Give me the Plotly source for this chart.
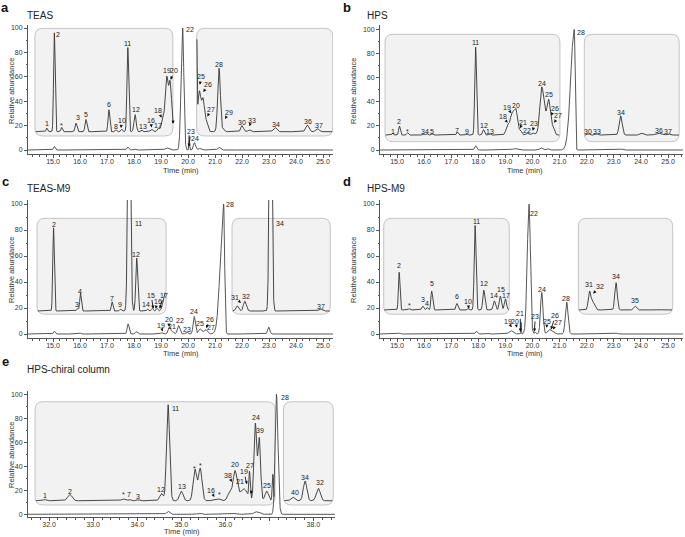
import numpy as np
import plotly.graph_objects as go

W, H = 685, 537
FONT = "Liberation Sans, Arial, sans-serif"

# ======================= DATA =======================
# peaks: retention time (min), height, left/right width (sigma, min)
# ---- a: TEAS ----
a_main_rt = [15.05, 17.07, 17.77, 18.04, 19.22, 19.80, 20.04, 20.23, 20.45, 21.15, 23.20, 24.40]
a_main_h = [3.0, 0.6, 2.5, 0.7, 1.6, 100, 12, 6, 1.2, 2.2, 0.4, 0.4]
a_main_wl = [.03, .03, .035, .035, .07, .055, .01, .035, .06, .05, .05, .05]
a_main_wr = [.03, .03, .035, .035, .07, .045, .012, .05, .06, .05, .05, .05]
a_in1_rt = [14.77, 15.05, 15.32, 15.85, 16.22, 17.07, 17.33, 17.54, 17.77, 18.04, 18.28, 18.65, 18.90, 19.05, 19.21, 19.34]
a_in1_h = [3, 81, 3.5, 7, 10, 18, 1.5, 2, 69, 14, 1.5, 2, 3, 8, 45, 37]
a_in1_wl = [.025, .028, .03, .035, .035, .032, .03, .03, .032, .04, .03, .04, .04, .05, .06, .045]
a_in1_wr = [.025, .028, .03, .035, .035, .032, .03, .03, .032, .04, .03, .04, .04, .05, .06, .06]
a_in2_rt = [20.33, 20.42, 20.56, 20.68, 21.15, 21.32, 21.99, 22.27, 23.22, 24.42, 24.80]
a_in2_h = [65, 33, 25, 8, 52, 2, 5, 1.5, 3.5, 5.5, 2.5]
a_in2_wl = [.012, .06, .05, .05, .05, .04, .04, .05, .06, .06, .06]
a_in2_wr = [.012, .06, .05, .05, .05, .04, .06, .05, .06, .06, .06]
a_base = 15.0
a_lab = ["1", "2", "*", "3", "5", "6", "8", "11", "12", "13", "17", "19", "22", "24", "28", "30", "34", "36", "37"]
a_lab_t = [14.77, 15.2, 15.33, 15.91, 16.23, 17.08, 17.33, 17.77, 18.09, 18.33, 18.9, 19.21, 20.07, 20.26, 21.15, 22.01, 23.26, 24.46, 24.85]
a_lab_v = [21.9, 94.3, 19.7, 26.8, 29.5, 37.4, 19, 87.4, 32.8, 19, 20.4, 64.8, 98.4, 9.6, 69.7, 22.7, 21, 23, 19.7]
a_arr = ["10", "16", "18", "20", " ", "23", "25", "26", "27", "29", "33"]
a_arr_t = [17.54, 18.62, 18.9, 19.48, 19.47, 20.1, 20.48, 20.74, 20.84, 21.52, 22.36]
a_arr_v = [24.0, 24.0, 32.0, 65.0, 28.0, 15.0, 60.0, 53.5, 33.0, 31.0, 24.5]
a_tip_t = [17.52, 18.65, 19.02, 19.36, 19.44, 20.03, 20.44, 20.57, 20.72, 21.37, 22.27]
a_tip_v = [18.0, 18.5, 26.5, 57.5, 21.5, 2.7, 53.5, 47.5, 27.5, 25.5, 19.5]

# ---- b: HPS ----
b_main_rt = [17.90, 19.35, 20.32, 20.55, 21.54, 23.27]
b_main_h = [3.5, 1.2, 1.8, 1.2, 100, 0.8]
b_main_wl = [.035, .08, .05, .05, .13, .05]
b_main_wr = [.035, .08, .05, .05, .028, .05]
b_in1_rt = [14.84, 15.09, 15.39, 15.97, 16.10, 16.30, 17.23, 17.57, 17.90, 18.19, 18.42, 19.08, 19.22, 19.38, 19.55, 19.80, 20.00, 20.33, 20.45, 20.60, 20.75]
b_in1_h = [1.5, 7.5, 2, 1.2, 1.2, 1, 2.5, 0.8, 73, 4.5, 1, 8, 8, 22, 4, 1.5, 1.5, 31, 12, 22, 5]
b_in1_wl = [.025, .03, .03, .03, .03, .03, .03, .03, .032, .035, .03, .06, .05, .12, .05, .05, .05, .06, .15, .06, .05]
b_in1_wr = [.025, .03, .03, .03, .03, .03, .03, .03, .032, .035, .03, .06, .05, .06, .05, .05, .05, .08, .15, .06, .05]
b_in2_rt = [22.06, 22.37, 23.25, 24.02, 24.63, 25.00]
b_in2_h = [1, 1, 16, 1.5, 1.5, 1]
b_in2_wl = [.04, .04, .055, .06, .1, .06]
b_in2_wr = [.04, .04, .055, .06, .1, .06]
b_base = 12.4
b_lab = ["1", "2", "*", "3", "4", "5", "7", "9", "11", "12", "13", "20", "22", "24", "25", "28", "30", "33", "34", "36", "37"]
b_lab_t = [14.84, 15.09, 15.39, 15.95, 16.11, 16.3, 17.23, 17.57, 17.9, 18.21, 18.43, 19.39, 19.8, 20.34, 20.62, 21.78, 22.06, 22.37, 23.27, 24.68, 25.01]
b_lab_v = [15.6, 23.5, 15.6, 15.6, 15.6, 15.6, 16.2, 15.6, 88.9, 20.7, 15.6, 36.8, 15.9, 55.2, 45.6, 97.5, 15.6, 15.6, 30.9, 15.9, 15.6]
b_arr = ["18", "19", "21", "23", "26", "27"]
b_arr_t = [18.91, 19.05, 19.64, 20.07, 20.83, 20.95]
b_arr_v = [27.5, 35.2, 23.0, 22.0, 34.2, 28.2]
b_tip_t = [19.08, 19.22, 19.54, 20.01, 20.68, 20.8]
b_tip_v = [22.5, 30.5, 18.0, 16.0, 28.5, 22.5]

# ---- c: TEAS-M9 ----
c_main_rt = [15.05, 16.02, 17.78, 18.09, 19.02, 19.32, 19.45, 19.65, 19.95, 20.23, 20.45, 20.65, 21.32, 22.99]
c_main_h = [2.2, 0.6, 7.8, 1.8, 1, 5.5, 1.5, 6.5, 1.5, 13.5, 4, 3.5, 100, 5.3]
c_main_wl = [.03, .03, .035, .04, .04, .05, .03, .045, .04, .04, .06, .06, .12, .04]
c_main_wr = [.03, .03, .035, .04, .04, .05, .03, .045, .04, .04, .06, .06, .035, .04]
c_in1_rt = [15.02, 15.91, 16.02, 17.19, 17.50, 17.82, 18.10, 18.50, 18.67, 18.85, 19.15]
c_in1_h = [64, 2, 13.5, 7, 1.5, 250, 40.7, 1.5, 2, 2, 14]
c_in1_wl = [.028, .03, .03, .03, .03, .045, .035, .03, .03, .03, .07]
c_in1_wr = [.028, .03, .03, .03, .03, .045, .035, .03, .03, .03, .07]
c_in2_rt = [21.82, 22.10, 23.06, 24.90]
c_in2_h = [4, 7.5, 300, 1.5]
c_in2_wl = [.05, .05, .043, .06]
c_in2_wr = [.05, .06, .043, .06]
c_base = 17.7
c_lab = ["2", "3", "4", "7", "9", "11", "12", "14", "22", "23", "24", "25", "28", "32", "34", "37"]
c_lab_t = [15.02, 15.89, 16.01, 17.19, 17.49, 18.15, 18.09, 18.46, 19.69, 19.96, 20.24, 20.44, 21.57, 22.16, 23.39, 24.93]
c_lab_v = [84.4, 22.8, 33, 27.4, 22.8, 85.1, 60.8, 22.8, 10.2, 3.8, 17.2, 8.2, 99.8, 28.7, 85.1, 21.1]
c_arr = ["15", "16", "17", "19", "20", "21", "26", "27", "31"]
c_arr_t = [18.64, 18.87, 19.1, 19.0, 19.28, 19.41, 20.8, 20.85, 21.75]
c_arr_v = [30.0, 25.0, 30.0, 6.5, 11.0, 6.0, 11.5, 5.2, 28.2]
c_tip_t = [18.71, 18.8, 18.95, 19.06, 19.3, 19.46, 20.68, 20.73, 21.96]
c_tip_v = [19.5, 19.5, 19.5, 2.0, 5.5, 1.8, 4.5, 1.8, 23.8]

# ---- d: HPS-M9 ----
d_main_rt = [15.10, 17.93, 18.35, 19.20, 19.58, 19.87, 20.09, 20.34, 20.62, 20.77, 21.26, 22.10, 23.10, 24.50]
d_main_h = [0.7, 2.2, 0.5, 2.6, 9, 100, 1.5, 32, 3.5, 2, 24.5, 0.4, 0.6, 0.3]
d_main_wl = [.03, .035, .04, .07, .008, .065, .03, .045, .07, .05, .05, .05, .05, .05]
d_main_wr = [.03, .035, .04, .07, .008, .05, .03, .045, .07, .05, .05, .05, .05, .05]
d_in1_rt = [15.08, 15.45, 15.95, 16.11, 16.28, 16.70, 17.21, 17.63, 17.88, 18.20, 18.59, 18.81, 19.00]
d_in1_h = [29, 1, 3, 2, 14.5, 0.5, 5, 1, 65, 15.3, 7, 10.7, 8.5]
d_in1_wl = [.028, .03, .035, .03, .03, .04, .035, .03, .033, .035, .04, .04, .04]
d_in1_wr = [.028, .03, .035, .03, .035, .04, .035, .03, .033, .04, .04, .04, .04]
d_in2_rt = [22.10, 22.24, 23.08, 23.78, 24.60]
d_in2_h = [14.5, 5, 21, 3, 0.5]
d_in2_wl = [.045, .05, .045, .05, .1]
d_in2_wr = [.06, .06, .045, .05, .1]
d_base = 18.5
d_lab = ["2", "*", "3", "4", "5", "6", "11", "12", "14", "15", "17", "22", "24", "28", "31", "34", "35"]
d_lab_t = [15.08, 15.45, 15.95, 16.11, 16.28, 17.21, 17.92, 18.22, 18.59, 18.84, 19.02, 20.07, 20.35, 21.24, 22.1, 23.08, 23.78]
d_lab_v = [53, 22.3, 26.9, 23.6, 39, 28.7, 86.4, 38.5, 29.5, 34.4, 30, 92.8, 34.4, 27.5, 38.2, 44.1, 25.4]
d_arr = ["10", "19", "20", "21", "23", "25", "26", "27", "32"]
d_arr_t = [17.61, 19.08, 19.37, 19.55, 20.1, 20.54, 20.84, 20.93, 22.47]
d_arr_v = [24.8, 10.0, 10.0, 15.5, 13.5, 10.0, 14.0, 9.0, 36.8]
d_tip_t = [17.65, 19.23, 19.42, 19.55, 20.07, 20.52, 20.68, 20.75, 22.24]
d_tip_v = [19.5, 5.2, 4.8, 1.8, 1.8, 4.8, 3.4, 3.4, 31.0]

# ---- e: HPS-chiral column ----
e_main_rt = [34.70, 35.31, 35.43, 36.22, 36.68, 36.77, 37.16, 37.53, 37.81, 38.11]
e_main_h = [2.5, 0.8, 0.8, 0.7, 2, 1.7, 100, 0.3, 0.6, 0.4]
e_main_wl = [.035, .03, .03, .04, .04, .04, .03, .04, .04, .04]
e_main_wr = [.035, .03, .03, .04, .04, .04, .035, .04, .04, .04]
e_in1_rt = [31.90, 32.47, 33.68, 33.82, 34.02, 34.55, 34.70, 35.00, 35.31, 35.43, 35.73, 35.84, 36.11, 36.22, 36.42, 36.55, 36.68, 36.77, 36.94, 37.08]
e_in1_h = [1, 5.3, 1.5, 1, 0.8, 6, 80, 8, 26, 27, 1, 1.5, 8, 24, 10, 22, 64, 52, 8, 22]
e_in1_wl = [.03, .05, .04, .03, .03, .04, .035, .04, .04, .04, .04, .04, .05, .04, .08, .015, .03, .03, .04, .015]
e_in1_wr = [.03, .05, .04, .03, .03, .04, .035, .04, .04, .04, .04, .04, .05, .05, .08, .015, .03, .03, .04, .015]
e_in2_rt = [37.53, 37.81, 38.11]
e_in2_h = [3, 16.5, 10.4]
e_in2_wl = [.04, .04, .045]
e_in2_wr = [.04, .04, .045]
e_base = 11.3
e_lab = ["1", "2", "*", "7", "3", "12", "11", "13", "*", "*", "*", "20", "27", "24", "39", "25", "28", "40", "34", "32"]
e_lab_t = [31.9, 32.47, 33.68, 33.82, 34.02, 34.54, 34.86, 35.01, 35.31, 35.44, 35.86, 36.22, 36.57, 36.7, 36.79, 36.95, 37.36, 37.58, 37.81, 38.14]
e_lab_v = [15.5, 19.4, 16.7, 16.7, 14.7, 20.3, 88.3, 23, 38.3, 40.3, 16.1, 41.1, 41.0, 80.8, 70.2, 24.4, 97.2, 18, 30.8, 26.3]
e_arr = ["16", "38", "21", "19", " "]
e_arr_t = [35.67, 36.07, 36.33, 36.42, 36.6]
e_arr_v = [19.8, 32.3, 27.5, 35.5, 23.0]
e_tip_t = [35.75, 36.15, 36.46, 36.49, 36.58]
e_tip_v = [14.5, 27.0, 24.0, 25.0, 17.0]

# tick values
x_ticks_ad = [15, 16, 17, 18, 19, 20, 21, 22, 23, 24, 25]
x_ticks_e = [32, 33, 34, 35, 36, 37, 38]
x_ticktext_e = ["32.0", "33.0", "34.0", "35.0", "36.0", "", "38.0"]
y_ticks = [0, 20, 40, 60, 80, 100]

# ======================= LAYOUT SPEC (pixels) =======================
panels = {
    "a": dict(ax="", xpx=(28, 333), xr=(14.074, 25.37), ypx=(25, 154), yr=(-3.28, 102.46),
              boxes=[(14.33, 19.44, 11.5, 99.7), (20.32, 25.36, 11.5, 99.7)],
              spans=[(14.36, 19.45), (20.33, 25.34)], title="TEAS", tpx=(5, 8), ttl=(25, 15),
              xt=(181, 170), yt=(11, 91)),
    "b": dict(ax="2", xpx=(380, 683), xr=(14.373, 25.55), ypx=(25, 154), yr=(-3.31, 103.6),
              boxes=[(14.56, 21.01, 6.9, 95.9), (21.91, 25.41, 6.9, 95.9)],
              spans=[(14.58, 20.98), (21.93, 25.40)], title="HPS", tpx=(347, 8), ttl=(365, 15),
              xt=(525, 170), yt=(353, 91)),
    "c": dict(ax="3", xpx=(28, 333), xr=(14.074, 25.37), ypx=(200, 338), yr=(-3.08, 103.1),
              boxes=[(14.41, 19.19, 15.2, 89.0), (21.63, 25.27, 15.2, 89.0)],
              spans=[(14.43, 19.17), (21.65, 25.25)], title="TEAS-M9", tpx=(5, 181), ttl=(25, 188),
              xt=(181, 353), yt=(11, 270)),
    "d": dict(ax="4", xpx=(380, 683), xr=(14.373, 25.55), ypx=(200, 338), yr=(-3.08, 103.1),
              boxes=[(14.51, 19.14, 15.2, 89.0), (21.69, 25.17, 15.2, 89.0)],
              spans=[(14.53, 19.12), (21.71, 25.15)], title="HPS-M9", tpx=(347, 181), ttl=(365, 188),
              xt=(525, 353), yt=(353, 270)),
    "e": dict(ax="5", xpx=(28, 335), xr=(31.52, 38.49), ypx=(391, 517), yr=(-2.25, 102.75),
              boxes=[(31.68, 37.13, 7.75, 93.8), (37.32, 38.45, 7.75, 93.8)],
              spans=[(31.70, 37.11), (37.34, 38.43)], title="HPS-chiral column", tpx=(5, 361), ttl=(25, 369),
              xt=(182, 531), yt=(11, 455)),
}

data = {
    "a": dict(main=(a_main_rt, a_main_h, a_main_wl, a_main_wr), in1=(a_in1_rt, a_in1_h, a_in1_wl, a_in1_wr),
              in2=(a_in2_rt, a_in2_h, a_in2_wl, a_in2_wr), base=a_base,
              lab=(a_lab, a_lab_t, a_lab_v), arr=(a_arr, a_arr_t, a_arr_v, a_tip_t, a_tip_v)),
    "b": dict(main=(b_main_rt, b_main_h, b_main_wl, b_main_wr), in1=(b_in1_rt, b_in1_h, b_in1_wl, b_in1_wr),
              in2=(b_in2_rt, b_in2_h, b_in2_wl, b_in2_wr), base=b_base,
              lab=(b_lab, b_lab_t, b_lab_v), arr=(b_arr, b_arr_t, b_arr_v, b_tip_t, b_tip_v)),
    "c": dict(main=(c_main_rt, c_main_h, c_main_wl, c_main_wr), in1=(c_in1_rt, c_in1_h, c_in1_wl, c_in1_wr),
              in2=(c_in2_rt, c_in2_h, c_in2_wl, c_in2_wr), base=c_base,
              lab=(c_lab, c_lab_t, c_lab_v), arr=(c_arr, c_arr_t, c_arr_v, c_tip_t, c_tip_v)),
    "d": dict(main=(d_main_rt, d_main_h, d_main_wl, d_main_wr), in1=(d_in1_rt, d_in1_h, d_in1_wl, d_in1_wr),
              in2=(d_in2_rt, d_in2_h, d_in2_wl, d_in2_wr), base=d_base,
              lab=(d_lab, d_lab_t, d_lab_v), arr=(d_arr, d_arr_t, d_arr_v, d_tip_t, d_tip_v)),
    "e": dict(main=(e_main_rt, e_main_h, e_main_wl, e_main_wr), in1=(e_in1_rt, e_in1_h, e_in1_wl, e_in1_wr),
              in2=(e_in2_rt, e_in2_h, e_in2_wl, e_in2_wr), base=e_base,
              lab=(e_lab, e_lab_t, e_lab_v), arr=(e_arr, e_arr_t, e_arr_v, e_tip_t, e_tip_v)),
}


def chromatogram(t, base, peaks):
    rt, h, wl, wr = peaks
    y = np.full_like(t, base, dtype=float)
    for r, hh, sl, sr in zip(rt, h, wl, wr):
        s = np.where(t < r, sl, sr)
        y += hh * np.exp(-0.5 * ((t - r) / s) ** 2)
    return y


def rbox(x0, x1, y0, y1, rx, ry):
    return (f"M{x0+rx},{y0} L{x1-rx},{y0} Q{x1},{y0} {x1},{y0+ry} L{x1},{y1-ry} "
            f"Q{x1},{y1} {x1-rx},{y1} L{x0+rx},{y1} Q{x0},{y1} {x0},{y1-ry} "
            f"L{x0},{y0+ry} Q{x0},{y0} {x0+rx},{y0} Z")


def paper(px, py):
    return px / W, 1 - py / H


fig = go.Figure()
shapes, annos = [], []
layout = {}
lab_font = dict(family=FONT, size=7, color="#222")
ax_font = dict(family=FONT, size=7.5, color="#333")

for key, p in panels.items():
    d = data[key]
    ax = p["ax"]
    xa, ya = "x" + ax, "y" + ax
    x0, x1 = p["xr"]
    pxm = (p["xpx"][1] - p["xpx"][0]) / (x1 - x0)
    pxv = (p["ypx"][1] - p["ypx"][0]) / (p["yr"][1] - p["yr"][0])
    for (bx0, bx1, by0, by1) in p["boxes"]:
        shapes.append(dict(type="path", xref=xa, yref=ya, path=rbox(bx0, bx1, by0, by1, 8 / pxm, 8 / pxv),
                           fillcolor="#f2f2f2", line=dict(color="#c4c4c4", width=1), layer="below"))
    t = np.arange(x0, x1, 0.003)
    fig.add_trace(go.Scatter(x=t, y=chromatogram(t, 0.0, d["main"]), mode="lines", xaxis=xa, yaxis=ya,
                             line=dict(color="#444", width=0.9), hoverinfo="skip", showlegend=False))
    for (s0, s1), pk in zip(p["spans"], (d["in1"], d["in2"])):
        ti = np.arange(s0, s1, 0.003)
        fig.add_trace(go.Scatter(x=ti, y=chromatogram(ti, d["base"], pk), mode="lines", xaxis=xa, yaxis=ya,
                                 line=dict(color="#333", width=0.9), hoverinfo="skip", showlegend=False))
    for txt, lt, lv in zip(*d["lab"]):
        annos.append(dict(x=lt, y=lv, xref=xa, yref=ya, text=txt, showarrow=False,
                          font=lab_font, xanchor="center", yanchor="middle"))
    for txt, lt, lv, tt, tv in zip(*d["arr"]):
        annos.append(dict(x=tt, y=tv, ax=lt, ay=lv, xref=xa, yref=ya, axref=xa, ayref=ya, text=txt,
                          showarrow=True, arrowhead=2, arrowsize=0.7, arrowwidth=0.9, arrowcolor="#111",
                          standoff=0, startstandoff=0, font=lab_font))
    lx, ly = paper(*p["tpx"])
    annos.append(dict(x=lx, y=ly, xref="paper", yref="paper", text="<b>%s</b>" % key, showarrow=False,
                      xanchor="center", yanchor="middle", font=dict(family=FONT, size=13, color="#111")))
    tx, ty = paper(*p["ttl"])
    annos.append(dict(x=tx, y=ty, xref="paper", yref="paper", text=p["title"], showarrow=False,
                      xanchor="left", yanchor="middle", font=dict(family=FONT, size=10, color="#222")))
    xtx, xty = paper(*p["xt"])
    annos.append(dict(x=xtx, y=xty, xref="paper", yref="paper", text="Time (min)", showarrow=False,
                      xanchor="center", yanchor="middle", font=ax_font))
    ytx, yty = paper(*p["yt"])
    annos.append(dict(x=ytx, y=yty, xref="paper", yref="paper", text="Relative abundance", showarrow=False,
                      textangle=-90, xanchor="center", yanchor="middle", font=ax_font))
    if key == "e":
        tv, tt, minor = x_ticks_e, x_ticktext_e, 0.2
    else:
        tv, tt, minor = x_ticks_ad, ["%.1f" % v for v in x_ticks_ad], 0.25
    layout["xaxis" + ax] = dict(
        domain=[p["xpx"][0] / W, p["xpx"][1] / W], range=list(p["xr"]), anchor=ya, automargin=False,
        showline=True, linecolor="#555", linewidth=1, ticks="outside", ticklen=3, tickwidth=1, tickcolor="#555",
        tickvals=tv, ticktext=tt, tickfont=dict(family=FONT, size=7, color="#333"), ticklabelstandoff=-2,
        minor=dict(ticks="outside", ticklen=1.5, dtick=minor, tick0=tv[0], tickcolor="#555"),
        showgrid=False, zeroline=False, fixedrange=True)
    layout["yaxis" + ax] = dict(
        domain=[1 - p["ypx"][1] / H, 1 - p["ypx"][0] / H], range=list(p["yr"]), anchor=xa, automargin=False,
        showline=True, linecolor="#555", linewidth=1, ticks="outside", ticklen=3, tickwidth=1, tickcolor="#555",
        tickvals=y_ticks, tickfont=dict(family=FONT, size=7, color="#333"),
        minor=dict(ticks="outside", ticklen=1.5, dtick=10, tickcolor="#555"),
        showgrid=False, zeroline=False, fixedrange=True)

fig.update_layout(template="none", width=W, height=H, margin=dict(l=0, r=0, t=0, b=0),
                  paper_bgcolor="white", plot_bgcolor="white", shapes=shapes, annotations=annos,
                  showlegend=False, hovermode=False, **layout)
fig.write_html("out.html", config={"displayModeBar": False, "staticPlot": True},
               post_script="document.body.style.margin='0px';")
